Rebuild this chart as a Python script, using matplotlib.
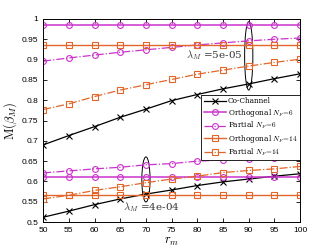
import numpy as np
import matplotlib
matplotlib.use('Agg')
import matplotlib.pyplot as plt
from matplotlib.patches import Ellipse

plt.rcParams['mathtext.fontset'] = 'cm'
plt.rcParams['font.family'] = ['Liberation Sans', 'DejaVu Sans']

r_m = [50, 55, 60, 65, 70, 75, 80, 85, 90, 95, 100]

# lambda_M = 5e-05
co_hi = [0.690, 0.713, 0.735, 0.758, 0.778, 0.799, 0.814, 0.828, 0.840, 0.853, 0.865]
orth6_hi = [0.985] * 11
part6_hi = [0.896, 0.904, 0.911, 0.918, 0.924, 0.930, 0.936, 0.941, 0.946, 0.950, 0.953]
orth14_hi = [0.935] * 11
part14_hi = [0.777, 0.791, 0.809, 0.825, 0.838, 0.851, 0.864, 0.874, 0.884, 0.893, 0.901]

# lambda_M = 4e-04
co_lo = [0.512, 0.527, 0.543, 0.557, 0.569, 0.579, 0.590, 0.599, 0.606, 0.613, 0.619]
orth6_lo = [0.610] * 11
part6_lo = [0.621, 0.626, 0.631, 0.635, 0.641, 0.644, 0.650, 0.653, 0.655, 0.657, 0.659]
orth14_lo = [0.566] * 11
part14_lo = [0.557, 0.566, 0.578, 0.587, 0.597, 0.606, 0.613, 0.622, 0.627, 0.631, 0.637]

magenta = '#CC33CC'
orange = '#E2662A'

fig = plt.figure(figsize=(3.32, 2.49), dpi=100)
ax = fig.add_axes([0.130, 0.108, 0.774, 0.816])

ms = 4.2
styles = [
    (co_hi, co_lo, dict(color='black', ls='-', marker='x', lw=0.9), 'Co-Channel'),
    (orth6_hi, orth6_lo, dict(color=magenta, ls='-', marker='o', lw=1.1), 'Orthogonal $N_F\\!=\\!6$'),
    (part6_hi, part6_lo, dict(color=magenta, ls='-.', marker='o', lw=0.9), 'Partial $N_F\\!=\\!6$'),
    (orth14_hi, orth14_lo, dict(color=orange, ls='-', marker='s', lw=1.0), 'Orthogonal $N_F\\!=\\!14$'),
    (part14_hi, part14_lo, dict(color=orange, ls='-.', marker='s', lw=0.9), 'Partial $N_F\\!=\\!14$'),
]
for hi, lo, kw, lab in styles:
    ax.plot(r_m, hi, mfc='none', ms=ms, mew=0.8, label=lab, **kw)
    ax.plot(r_m, lo, mfc='none', ms=ms, mew=0.8, **kw)

ax.add_patch(Ellipse((90, 0.909), 1.6, 0.168, fill=False, ec='black', lw=0.7))
ax.add_patch(Ellipse((70, 0.605), 1.6, 0.111, fill=False, ec='black', lw=0.7))
ax.text(88.8, 0.911, '$\\lambda_M$ =5e-05', ha='right', va='center', fontsize=7.5,
        family='serif', color='#333333')
ax.text(65.6, 0.537, '$\\lambda_M$ =4e-04', ha='left', va='center', fontsize=7.5,
        family='serif', color='#333333')

ax.set_xlim(50, 100)
ax.set_ylim(0.5, 1.0)
ax.set_xticks(r_m)
yt = np.arange(0.5, 1.001, 0.05)
ax.set_yticks(yt)
ax.set_yticklabels(['%g' % round(v, 2) for v in yt])
ax.tick_params(direction='in', top=True, right=True, labelsize=6, length=3, width=0.6)
for s in ax.spines.values():
    s.set_linewidth(0.7)
ax.set_xlabel('$r_m$', fontsize=9, labelpad=1)
ax.set_ylabel('$\\mathrm{M}(\\beta_M)$', fontsize=9, labelpad=2)

leg = ax.legend(loc='upper right', bbox_to_anchor=(1.0, 0.627),
                prop={'family': 'serif', 'size': 5.3}, fancybox=False, edgecolor='black',
                framealpha=1, handlelength=3.0, borderpad=0.35, labelspacing=0.2,
                handletextpad=0.3, borderaxespad=0)
leg.get_frame().set_linewidth(0.6)

fig.savefig('out.png', dpi=100)
